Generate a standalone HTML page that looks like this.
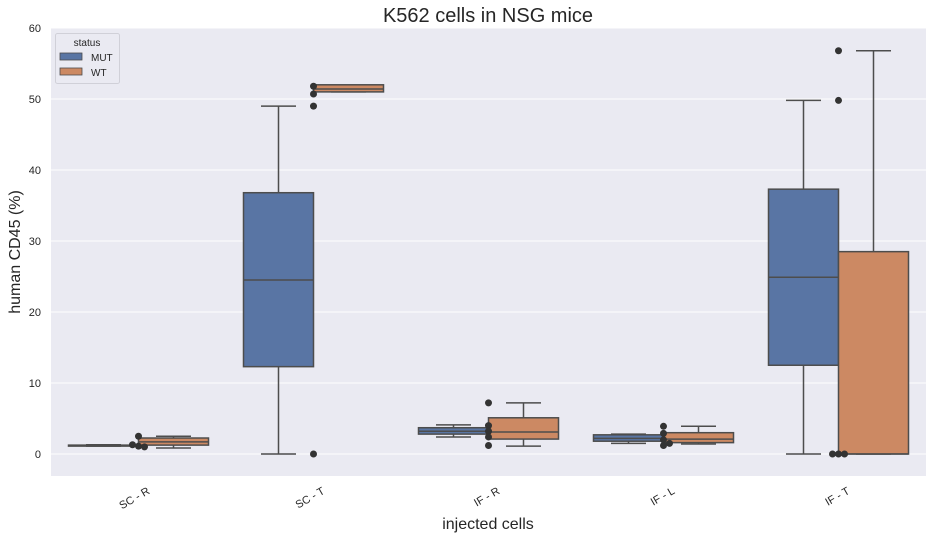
<!DOCTYPE html>
<html><head><meta charset="utf-8"><style>
body{margin:0;background:#fff;font-family:"Liberation Sans",sans-serif}
</style></head><body>
<svg id="chart" width="938" height="538" xmlns="http://www.w3.org/2000/svg" font-family="Liberation Sans, sans-serif">
<rect x="51" y="28" width="875" height="448" fill="#eaeaf2"/>
<g id="grid"></g><g id="marks"></g><g id="axes"></g>
<text x="488" y="22" font-size="20" text-anchor="middle" fill="#262626">K562 cells in NSG mice</text>
<text x="488" y="529" font-size="16" text-anchor="middle" fill="#262626">injected cells</text>
<text transform="translate(20,252) rotate(-90)" font-size="16" text-anchor="middle" fill="#262626">human CD45 (%)</text>
<g>
<rect x="55.5" y="33.5" width="64" height="50" rx="2" fill="#eaeaf2" stroke="#d0d0d8"/>
<text x="87" y="46" font-size="10" text-anchor="middle" fill="#262626">status</text>
<rect x="60" y="53" width="22" height="7" fill="#5975a4" stroke="#4d4d4d" stroke-width="0.8"/>
<text x="91" y="61" font-size="10" fill="#262626">MUT</text>
<rect x="60" y="68" width="22" height="7" fill="#cc8963" stroke="#4d4d4d" stroke-width="0.8"/>
<text x="91" y="76" font-size="10" fill="#262626">WT</text>
</g>
</svg>
<script>
const categories=["SC - R","SC - T","IF - R","IF - L","IF - T"];
const series=["MUT","WT"];
// [whiskerLow, q1, median, q3, whiskerHigh]
const mutStats=[[1.1,1.15,1.2,1.25,1.3],[0,12.3,24.5,36.8,49],[2.4,2.8,3.2,3.7,4.1],[1.5,1.8,2.2,2.7,2.8],[0,12.5,24.9,37.3,49.8]];
const wtStats=[[0.85,1.25,1.7,2.25,2.5],[51,51,51.4,52,51.9],[1.1,2.1,3.1,5.1,7.2],[1.4,1.6,2.1,3.0,3.9],[0,0,0,28.5,56.8]];
const points=[[1.1,1.0,2.5,1.3],[0,49,50.7,51.8],[7.2,4.0,3.2,2.4,1.2],[3.9,2.9,2.0,1.5,1.2],[56.8,49.8,0,0,0]];
const yTicks=[0,10,20,30,40,50,60];
const colors=["#5975a4","#cc8963"];
const NS="http://www.w3.org/2000/svg";
const x0=51,x1=926,yMin=-3.1,yMax=60;
const py0=476,py1=28;
const y=v=>py0-(v-yMin)/(yMax-yMin)*(py0-py1);
const bandW=(x1-x0)/categories.length;
const xc=i=>x0+bandW*(i+0.5);
function mk(tag,attrs,parent){const e=document.createElementNS(NS,tag);for(const k in attrs)e.setAttribute(k,attrs[k]);parent.appendChild(e);return e;}
const grid=document.getElementById('grid'),marks=document.getElementById('marks'),axes=document.getElementById('axes');
yTicks.forEach(t=>{
  const l=mk('line',{x1:x0,x2:x1,y1:y(t),y2:y(t),stroke:'#fff','stroke-width':1},grid);
  
  
  const tx=mk('text',{x:x0-10,y:y(t)+4,'font-size':11,'text-anchor':'end',fill:'#262626'},axes);
  tx.textContent=t;
  
  
});
categories.forEach((c,i)=>{
  const tx=mk('text',{transform:`translate(${xc(i)+12},${493}) rotate(-30)`,'font-size':11,'text-anchor':'end',fill:'#262626'},axes);
  tx.textContent=c;
  
  
});
const boxW=bandW*0.4;
[mutStats,wtStats].forEach((stats,s)=>{
  stats.forEach((st,i)=>{
    const cx=xc(i)+(s===0?-1:1)*boxW/2;
    const g=mk('g',{},marks);
    
    
    const st2={stroke:'#4d4d4d','stroke-width':1.5};
    mk('line',Object.assign({x1:cx,x2:cx,y1:y(st[0]),y2:y(st[1])},st2),g);
    mk('line',Object.assign({x1:cx,x2:cx,y1:y(st[3]),y2:y(st[4])},st2),g);
    mk('line',Object.assign({x1:cx-boxW/4,x2:cx+boxW/4,y1:y(st[0]),y2:y(st[0])},st2),g);
    mk('line',Object.assign({x1:cx-boxW/4,x2:cx+boxW/4,y1:y(st[4]),y2:y(st[4])},st2),g);
    mk('rect',{x:cx-boxW/2,y:y(st[3]),width:boxW,height:Math.max(1,y(st[1])-y(st[3])),fill:colors[s],stroke:'#4d4d4d','stroke-width':1.5},g);
    mk('line',Object.assign({x1:cx-boxW/2,x2:cx+boxW/2,y1:y(st[2]),y2:y(st[2])},st2),g);
  });
});
points.forEach((arr,i)=>{
  const seen={};
  arr.forEach((v,j)=>{
    const k=v.toFixed(0);seen[k]=(seen[k]||0)+1;
    const n=seen[k]-1;const off=(n%2?1:-1)*Math.ceil(n/2)*6;
    const c=mk('circle',{cx:xc(i)+off,cy:y(v),r:3.5,fill:'#333'},marks);
    
    
  });
});
</script>
</body></html>
